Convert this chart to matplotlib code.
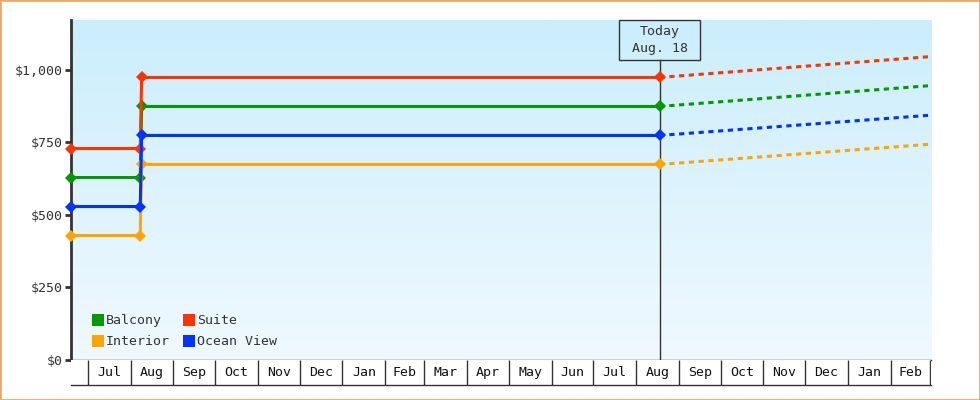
import numpy as np
import pandas as pd
import matplotlib
matplotlib.use('Agg')
import matplotlib.pyplot as plt
import matplotlib.dates as mdates
import matplotlib.transforms as mtransforms
from matplotlib.patches import Rectangle
from matplotlib.lines import Line2D
from matplotlib.colors import LinearSegmentedColormap

plt.rcParams['font.family'] = ['DejaVu Sans Mono']

# price history (solid) and forecast (dashed)
hist_dates = pd.to_datetime(['2013-06-19', '2013-08-08', '2013-08-09', '2014-08-18'])
fc_dates = pd.to_datetime(['2014-08-18', '2015-03-02'])

series = ['Balcony', 'Interior', 'Suite', 'Ocean View']
colours = ['#009900', '#ffa500', '#ff3300', '#0033ff']
hist = {
    'Balcony':    [629, 629, 874, 874],
    'Interior':   [429, 429, 674, 674],
    'Suite':      [729, 729, 974, 974],
    'Ocean View': [529, 529, 774, 774],
}
forecast = {
    'Balcony':    [874, 946],
    'Interior':   [674, 744],
    'Suite':      [974, 1046],
    'Ocean View': [774, 844],
}
yticks = [0, 250, 500, 750, 1000]
month_starts = pd.date_range('2013-07-01', '2015-03-01', freq='MS')
month_labels = ['Jul', 'Aug', 'Sep', 'Oct', 'Nov', 'Dec', 'Jan', 'Feb', 'Mar', 'Apr',
                'May', 'Jun', 'Jul', 'Aug', 'Sep', 'Oct', 'Nov', 'Dec', 'Jan', 'Feb']
today = pd.Timestamp('2014-08-18')

dark = '#333333'
W, H = 980, 400

fig = plt.figure(figsize=(W / 100, H / 100), dpi=100)
ax = fig.add_axes([71 / W, 40 / H, 860 / W, 340 / H])

# gradient background, darker at the top
grad = np.linspace(0, 1, 256).reshape(-1, 1)
cmap = LinearSegmentedColormap.from_list('bg', ['#cbeefc', '#f0f9ff'])
ax.imshow(grad, cmap=cmap, aspect='auto', origin='upper', extent=[0, 1, 0, 1],
          transform=ax.transAxes, zorder=0)

for name, c in zip(series, colours):
    ax.plot(fc_dates, forecast[name], color=c, lw=2.2, dashes=(1.7, 1.5), zorder=3)
for name, c in zip(series, colours):
    ax.plot(hist_dates, hist[name], color=c, lw=2.2, marker='D', markersize=6,
            markeredgewidth=0, zorder=4, clip_on=False)

ax.set_xlim(hist_dates[0], fc_dates[-1])
ax.set_ylim(0, 1172)

# today marker
box_h = 40 / 340
ax.axvline(today, ymin=0, ymax=1 - box_h, color=dark, lw=1, zorder=2)
trans = mtransforms.blended_transform_factory(ax.transData, ax.transAxes)
t = mdates.date2num(today)
ax.add_patch(Rectangle((t - 29, 1 - box_h), 58, box_h, transform=trans,
                       facecolor='none', edgecolor=dark, lw=1, zorder=5, clip_on=False))
ax.text(t, 1 - box_h / 2, 'Today\nAug. 18', transform=trans, ha='center', va='center',
        fontsize=9.5, color=dark, linespacing=1.35, zorder=6)

# axes styling
for s in ['top', 'right']:
    ax.spines[s].set_visible(False)
ax.spines['left'].set_linewidth(2)
ax.spines['left'].set_color(dark)
ax.spines['bottom'].set_linewidth(1)
ax.spines['bottom'].set_color(dark)
ax.set_yticks(yticks)
ax.set_yticklabels(['$' + format(v, ',') for v in yticks])
ax.tick_params(axis='y', length=4.3, width=2, color=dark, labelcolor=dark,
               labelsize=9.5, pad=2)
ax.set_xticks([])

# legend
handles = [Line2D([], [], ls='none', marker='s', markersize=8, markeredgewidth=0,
                  color=c, label=n) for n, c in zip(series, colours)]
ax.legend(handles=handles, ncol=2, loc='lower left', bbox_to_anchor=(0.0175, 0.015),
          frameon=False, fontsize=9.5, handlelength=0.8, handletextpad=0.2,
          columnspacing=1.05, labelspacing=0.6, borderpad=0, labelcolor=dark)

# month band
band = fig.add_axes([71 / W, 15 / H, 860 / W, 25 / H], sharex=ax)
band.set_facecolor('white')
band.set_ylim(0, 1)
for s in ['left', 'right', 'top']:
    band.spines[s].set_visible(False)
band.spines['bottom'].set_color(dark)
band.spines['bottom'].set_linewidth(1)
band.vlines(month_starts, 0, 1, color=dark, lw=1)
for start, nxt, lab in zip(month_starts[:-1], month_starts[1:], month_labels):
    band.text(start + (nxt - start) / 2, 0.5, lab, ha='center', va='center',
              fontsize=9.5, color='#111111')
band.set_xticks([])
band.set_yticks([])
band.set_xlim(hist_dates[0], fc_dates[-1])

# orange frame
fig.patches.append(Rectangle((0, 0), 1, 1, transform=fig.transFigure, fill=False,
                             edgecolor='#e9aa6b', lw=2))

fig.savefig('out.png', dpi=100)
